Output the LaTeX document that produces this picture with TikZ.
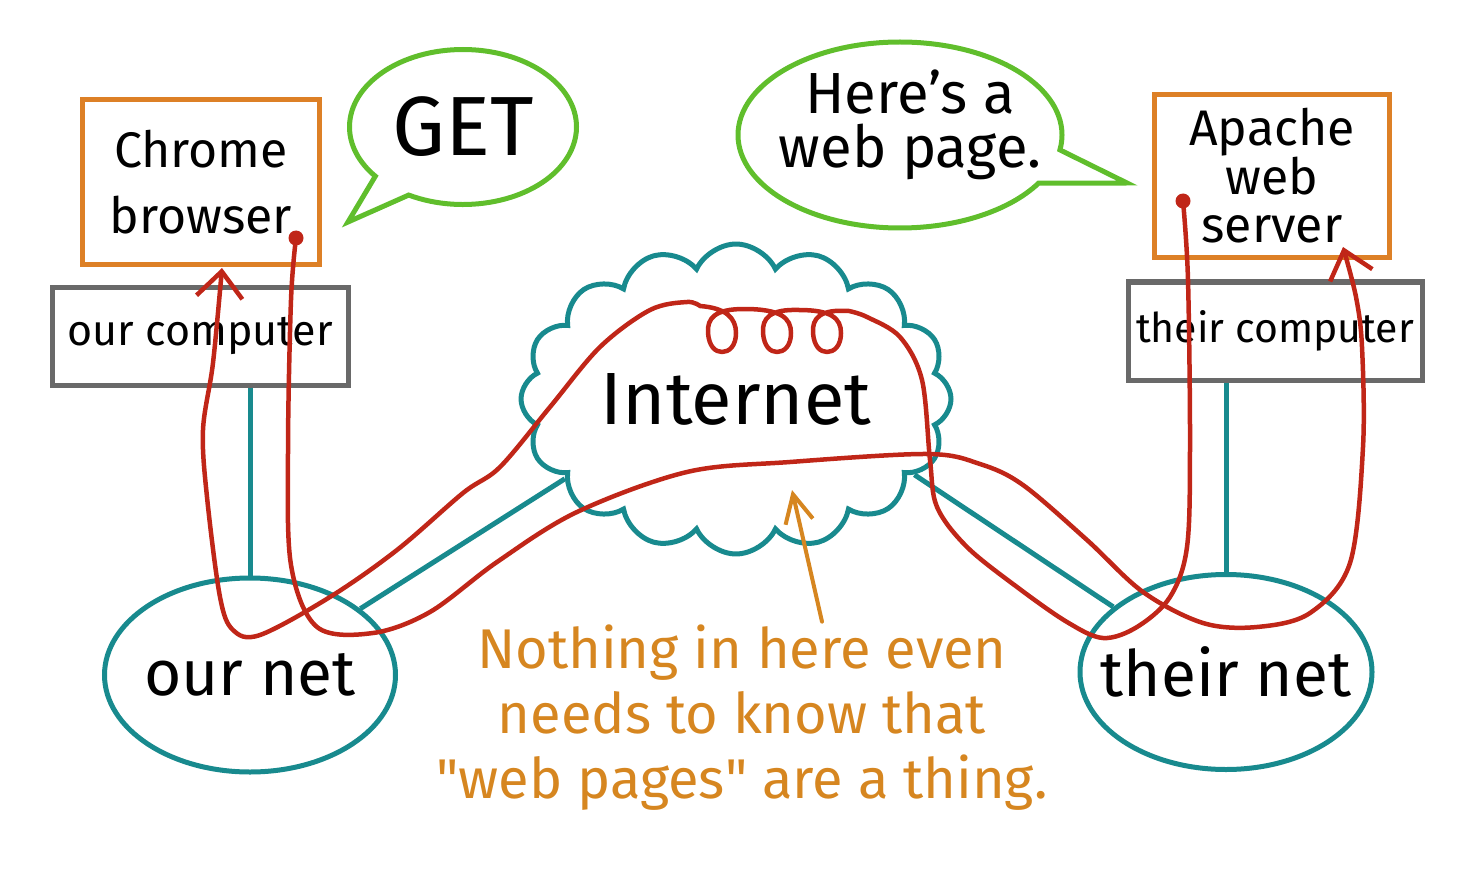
\documentclass[tikz,border=0pt]{standalone}
\usepackage{fontspec}
\setmainfont{Fira Sans}
\usetikzlibrary{shapes.geometric,shapes.symbols,shapes.callouts,arrows.meta}
\definecolor{boxorange}{RGB}{221,128,38}
\definecolor{hostgray}{RGB}{105,105,105}
\definecolor{bubblegreen}{RGB}{96,190,44}
\definecolor{netteal}{RGB}{24,138,142}
\definecolor{pathred}{RGB}{192,38,24}
\definecolor{noteorange}{RGB}{214,134,32}

\begin{document}
\begin{tikzpicture}[x=1pt, y=-1pt, every node/.style={align=center, text=black},
progbox/.style={draw=boxorange, line width=5pt, minimum width=237pt, minimum height=165pt},
hostbox/.style={draw=hostgray, line width=5pt, minimum width=296pt, minimum height=98pt, font=\fontsize{43}{50}\selectfont},
netblob/.style={ellipse, draw=netteal, line width=5pt, minimum width=291pt, minimum height=194pt, label={[font=\fontsize{64}{70}\selectfont]center:#1}},
bubble/.style={ellipse callout, draw=bubblegreen, line width=5pt, callout pointer arc=22},
wire/.style={draw=netteal, line width=5pt},
msgpath/.style={draw=pathred, line width=4.5pt, line cap=round, line join=round}]
\useasboundingbox (0,0) rectangle (1477,885);
\node[progbox, font=\fontsize{50}{66}\selectfont] (chrome) at (201,182) {Chrome\\browser};
\node[hostbox] (ourcomp) at (200,336) {our computer};
\node[progbox, minimum width=235pt, minimum height=163pt, font=\fontsize{50}{48}\selectfont] (apache) at (1272,176) {Apache\\web\\server};
\node[hostbox, minimum width=294pt, font=\fontsize{41}{50}\selectfont] (theircomp) at (1275,331) {their computer};
\node[netblob=our net] (ournet) at (250,675) {};
\node[netblob=their net, minimum width=292pt, minimum height=195pt] (theirnet) at (1226,672) {};
\node[cloud, draw=netteal, line width=5pt, cloud puffs=16, cloud puff arc=130, aspect=1.4, minimum width=430pt, minimum height=310pt, label={[font=\fontsize{74}{80}\selectfont]center:Internet}] (internet) at (736,399) {};
\node[bubble, minimum width=227pt, minimum height=155pt, callout absolute pointer={(348,222)}, label={[font=\fontsize{84}{90}\selectfont]center:GET}] (getbubble) at (463,127) {};
\node[bubble, minimum width=324pt, minimum height=186pt, callout absolute pointer={(1127,183)}, label={[font=\fontsize{58}{54}\selectfont, xshift=10pt, yshift=10pt]center:Here's a\\web page.}] (pagebubble) at (900,135) {};
\node[text=noteorange, font=\fontsize{56}{65}\selectfont] (note) at (742,718) {Nothing in here even\\needs to know that\\\textquotedbl web pages\textquotedbl{} are a thing.};

\draw[wire] (ourcomp.south -| ournet.north) -- (ournet.north);
\draw[wire] (theircomp.south -| theirnet.north) -- (theirnet.north);
\draw[wire] (ournet.31) -- (internet.205);
\draw[wire] (internet.337) -- (theirnet.150);

\coordinate (getdot) at (296,238);
\coordinate (apachetip) at (1343,247);
\coordinate (pagedot) at (1183,201);
\coordinate (chrometip) at (222,268);
\coordinate (notetip) at (792,490);

\fill[pathred] (getdot) circle[radius=7.5];
\fill[pathred] (pagedot) circle[radius=7.5];
\draw[msgpath, -{Straight Barb[length=26pt,width=44pt]}] plot[smooth, tension=0.55] coordinates {(getdot) (291,300) (288,450) (291,565) (317,627) (373,633) (430,612) (497,562) (577,512) (687,472) (790,462) (927,454) (980,464) (1023,485) (1087,540) (1143,592) (1203,623) (1257,627) (1310,613) (1350,563) (1363,447) (1362,347) (1356,297) (apachetip)};
\draw[msgpath, -{Straight Barb[length=26pt,width=46pt]}] plot[smooth, tension=0.55] coordinates {(pagedot) (1188,280) (1190,447) (1187,547) (1170,597) (1137,627) (1103,638) (1067,622) (1017,587) (967,547) (937,507) (930,460) (922,380) (900,337) (867,317) (849,311)}
  .. controls (820,309) and (812,318) .. (813,333) .. controls (814,346) and (820,352) .. (827,352) .. controls (834,352) and (841,346) .. (841,333) .. controls (841,318) and (831,310) .. (799,310)
  .. controls (770,309) and (762,318) .. (763,333) .. controls (764,346) and (770,352) .. (777,352) .. controls (784,352) and (791,346) .. (791,333) .. controls (791,318) and (781,309) .. (744,309)
  .. controls (715,309) and (707,318) .. (708,333) .. controls (709,346) and (715,352) .. (722,352) .. controls (729,352) and (736,346) .. (736,333) .. controls (736,318) and (726,308) .. (700,306)
  -- plot[smooth, tension=0.55] coordinates {(700,306) (687,302) (650,310) (600,347) (550,407) (500,467) (463,493) (397,550) (330,597) (260,635) (233,630) (220,597) (207,497) (203,430) (213,363) (chrometip)};
\draw[noteorange, line width=4pt, line cap=round, -{Straight Barb[length=28pt,width=28pt]}] ([xshift=80pt]note.north) -- (notetip);
\end{tikzpicture}
\end{document}
